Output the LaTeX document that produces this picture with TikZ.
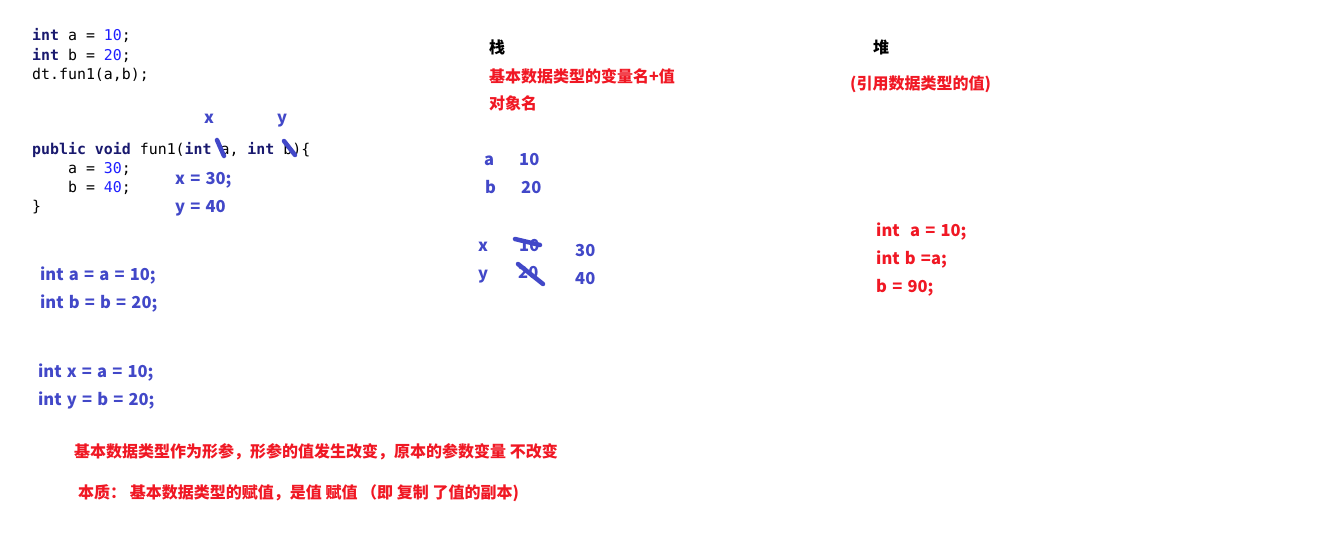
\documentclass[tikz,border=0pt]{standalone}
\usepackage{fontspec}
\setmonofont{DejaVu Sans Mono}
\newfontfamily\cjk{Noto Sans CJK SC}
\definecolor{codekw}{RGB}{25,25,110}
\definecolor{codenum}{RGB}{30,30,255}
\definecolor{penblue}{RGB}{66,72,200}
\definecolor{penred}{RGB}{240,24,36}
\usetikzlibrary{positioning}
\newcommand{\kw}[1]{\textcolor{codekw}{\textbf{#1}}}
\newcommand{\nm}[1]{\textcolor{codenum}{#1}}
\newcommand{\penfont}{\fontsize{16.5}{20}\cjk\bfseries\spaceskip=5.2pt plus 1pt\relax}

\begin{document}
\begin{tikzpicture}[x=1pt, y=-1pt,
  code/.style={anchor=base west, inner sep=0pt, font=\fontsize{14.9}{18}\ttfamily},
  pen/.style={anchor=base west, inner sep=0pt, text=penblue, font=\penfont},
  note/.style={anchor=base west, inner sep=0pt, text=penred, font=\fontsize{16}{20}\cjk\bfseries},
  rednum/.style={pen, text=penred},
  head/.style={anchor=base west, inner sep=0pt, font=\fontsize{16}{20}\cjk\bfseries},
  strike/.style={draw=penblue, line width=4.5pt, line cap=round},
]
\useasboundingbox (0,0) rectangle (1317,543);
% caller code
\node[code] (c1) at (32,41) {\kw{int} a = \nm{10};};
\node[code] (c2) at (32,60) {\kw{int} b = \nm{20};};
\node[code] (c3) at (32,79) {dt.fun1(a,b);};
% method code
\node[code] (m1) at (32,154) {\kw{public} \kw{void} fun1(\kw{int} a, \kw{int} b)\{};
\node[code] (m2) at (32,173) {\ \ \ \ a = \nm{30};};
\node[code] (m3) at (32,192) {\ \ \ \ b = \nm{40};};
\node[code] (m4) at (32,211) {\}};
% renamed parameters
\node[pen] (px) at (204,123) {x};
\node[pen] (py) at (277,123) {y};
\node[pen] (x30) at (175,184) {x = 30;};
\node[pen] (y40) at (175,212) {y = 40};
\draw[strike] (217,140) -- (224,156);
\draw[strike] (284,141) -- (295,155);
% assignments
\node[pen] (aa) at (40,280) {int a = a = 10;};
\node[pen] (bb) at (40,308) {int b = b = 20;};
\node[pen] (xa) at (38,377) {int x = a = 10;};
\node[pen] (yb) at (38,405) {int y = b = 20;};
% notes
\node[note] (n1) at (74,457) {基本数据类型作为形参，形参的值发生改变，原本的参数变量 不改变};
\node[note] (n2) at (78,498) {本质： 基本数据类型的赋值，是值 赋值 （即 复制 了值的副本)};
% stack
\node[head] (stack) at (489,54) {栈};
\node[note] (s1) at (489,82) {基本数据类型的变量名+值};
\node[note] (s2) at (489,110) {对象名};
\node[pen] (sa) at (484,165) {a};
\node[pen] (sa10) at (519,165) {10};
\node[pen] (sb) at (485,193) {b};
\node[pen] (sb20) at (521,193) {20};
\node[pen] (sx) at (478,251) {x};
\node[pen] (sx10) at (519,251) {10};
\node[pen] (sx30) at (575,256) {30};
\node[pen] (sy) at (478,279) {y};
\node[pen] (sy20) at (518,278) {20};
\node[pen] (sy40) at (575,284) {40};
\draw[strike] (515,239) -- (540,245);
\draw[strike] (518,264) -- (543,284);
% heap
\node[head] (heap) at (873,54) {堆};
\node[note] (h1) at (850,89) {(引用数据类型的值)};
\node[rednum] (h2) at (876,236) {int\ \ a = 10;};
\node[rednum] (h3) at (876,264) {int b =a;};
\node[rednum] (h4) at (876,292) {b = 90;};
\end{tikzpicture}
\end{document}
